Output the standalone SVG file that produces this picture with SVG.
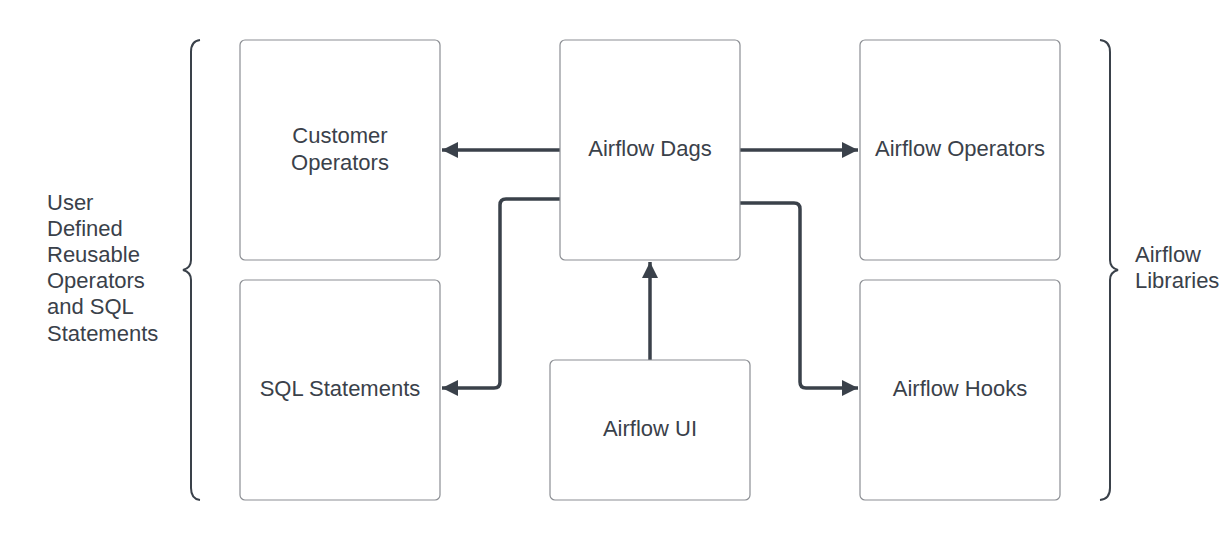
<svg xmlns="http://www.w3.org/2000/svg" width="1220" height="540" viewBox="0 0 1220 540">
<style>
.box{fill:#fff;stroke:#8b8e93;stroke-width:1.2}
.t{font-family:"Liberation Sans",Arial,sans-serif;font-size:22px;fill:#3a414a}
.c{fill:none;stroke:#3a414a;stroke-width:3.5;stroke-linejoin:round}
.br{fill:none;stroke:#3a414a;stroke-width:2}
</style>
<defs>
<marker id="ah" viewBox="0 0 10 10" refX="10" refY="5" markerWidth="4.6" markerHeight="4.6" orient="auto" markerUnits="strokeWidth">
<path d="M0,0 L10,5 L0,10 z" fill="#3a414a"/>
</marker>
</defs>
<rect width="1220" height="540" fill="#fff"/>
<g id="connectors">
<path class="c" d="M560,150 H442" marker-end="url(#ah)"/>
<path class="c" d="M740,150 H858" marker-end="url(#ah)"/>
<path class="c" d="M560,199 H506 Q500,199 500,205 V382 Q500,388 494,388 H442" marker-end="url(#ah)"/>
<path class="c" d="M740,203 H794 Q800,203 800,209 V382 Q800,388 806,388 H858" marker-end="url(#ah)"/>
<path class="c" d="M650,360 V262" marker-end="url(#ah)"/>
</g>
<g id="customer-operators"><rect class="box" x="240" y="40" width="200" height="220" rx="5"/><text class="t" text-anchor="middle" x="340" y="143">Customer</text><text class="t" text-anchor="middle" x="340" y="170">Operators</text></g>
<g id="sql-statements"><rect class="box" x="240" y="280" width="200" height="220" rx="5"/><text class="t" text-anchor="middle" x="340" y="396">SQL Statements</text></g>
<g id="airflow-dags"><rect class="box" x="560" y="40" width="180" height="220" rx="5"/><text class="t" text-anchor="middle" x="650" y="156">Airflow Dags</text></g>
<g id="airflow-ui"><rect class="box" x="550" y="360" width="200" height="140" rx="5"/><text class="t" text-anchor="middle" x="650" y="436">Airflow UI</text></g>
<g id="airflow-operators"><rect class="box" x="860" y="40" width="200" height="220" rx="5"/><text class="t" text-anchor="middle" x="960" y="156">Airflow Operators</text></g>
<g id="airflow-hooks"><rect class="box" x="860" y="280" width="200" height="220" rx="5"/><text class="t" text-anchor="middle" x="960" y="396">Airflow Hooks</text></g>
<g id="left-brace">
<path class="br" d="M200,40 Q191,41 191,52 V260 Q191,268 183,270 Q191,272 191,280 V488 Q191,499 200,500"/>
<text class="t" x="47" y="210">User</text>
<text class="t" x="47" y="236">Defined</text>
<text class="t" x="47" y="262">Reusable</text>
<text class="t" x="47" y="288">Operators</text>
<text class="t" x="47" y="314">and SQL</text>
<text class="t" x="47" y="341">Statements</text>
</g>
<g id="right-brace">
<path class="br" d="M1100,40 Q1110,41 1110,52 V260 Q1110,268 1118,270 Q1110,272 1110,280 V488 Q1110,499 1100,500"/>
<text class="t" x="1135" y="262">Airflow</text>
<text class="t" x="1135" y="288">Libraries</text>
</g>
</svg>
